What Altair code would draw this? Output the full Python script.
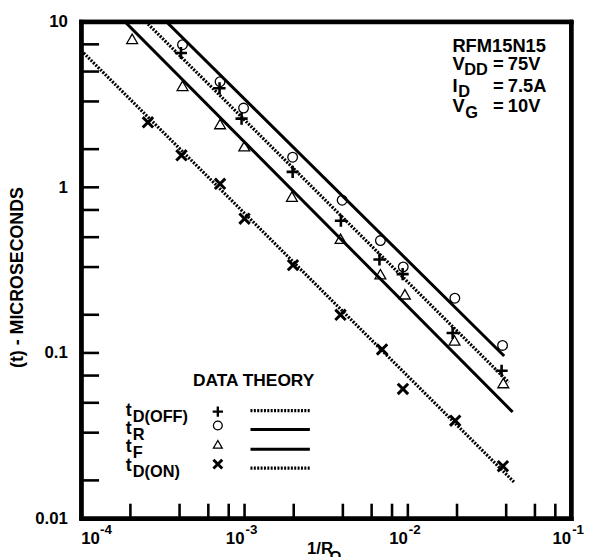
import altair as alt
import pandas as pd

FONT = "Liberation Sans, Arial, sans-serif"

# ---------------- data ----------------
X_DOMAIN = [1e-4, 1e-1]
Y_DOMAIN = [0.01, 10]

# measured points: 1/R_O  vs  switching time (microseconds)
toff_x = [4.08e-4, 7.03e-4, 9.59e-4, 1.97e-3, 3.89e-3, 6.70e-3, 9.29e-3, 1.88e-2, 3.75e-2]
toff_y = [6.47, 3.96, 2.60, 1.24, 0.629, 0.367, 0.299, 0.132, 0.078]
tr_x = [4.17e-4, 7.08e-4, 9.86e-4, 1.97e-3, 3.96e-3, 6.79e-3, 9.37e-3, 1.94e-2, 3.80e-2]
tr_y = [7.26, 4.34, 3.01, 1.52, 0.836, 0.477, 0.331, 0.214, 0.111]
tf_x = [2.05e-4, 4.17e-4, 7.08e-4, 9.96e-4, 1.95e-3, 3.87e-3, 6.79e-3, 9.59e-3, 1.93e-2, 3.84e-2]
tf_y = [7.88, 4.10, 2.41, 1.77, 0.879, 0.489, 0.299, 0.226, 0.119, 0.0658]
ton_x = [2.56e-4, 4.11e-4, 7.08e-4, 1.0e-3, 1.98e-3, 3.87e-3, 6.95e-3, 9.33e-3, 1.95e-2, 3.82e-2]
ton_y = [2.47, 1.56, 1.05, 0.647, 0.339, 0.170, 0.105, 0.0606, 0.039, 0.0207]

# theory lines (end points)
th_off_x = [2.48e-4, 0.0415]
th_off_y = [10, 0.0664]
th_r_x = [3.32e-4, 0.0389]
th_r_y = [10, 0.0959]
th_f_x = [1.85e-4, 0.0438]
th_f_y = [10, 0.0440]
th_on_x = [1.0e-4, 0.0447]
th_on_y = [6.7, 0.0166]

# axis ticks / labels
y_major = [0.01, 0.1, 1, 10]
y_major_labels = ["0.01", "0.1", "1", "10"]
y_minor = [7.3, 5.0, 3.3, 1.7, 1.0, 0.73, 0.5, 0.33, 0.17, 0.1, 0.073, 0.05, 0.033, 0.017]
x_ticks = [2e-4, 4e-4, 6e-4, 8e-4, 1e-3, 2e-3, 4e-3, 6e-3, 8e-3, 1e-2, 2e-2, 4e-2, 6e-2, 8e-2]
x_label_vals = [1e-4, 1e-3, 1e-2, 1e-1]
x_label_exps = ["-4", "-3", "-2", "-1"]

# ---------------- chart ----------------
W, H = 495, 502

label_expr = " : ".join(
    [f"datum.value < {v * 1.01} && datum.value > {v * 0.99} ? '{s}'" for v, s in zip(y_major, y_major_labels)]
) + " : ''"

XS = alt.Scale(type="log", domain=X_DOMAIN)
YS = alt.Scale(type="log", domain=Y_DOMAIN)
XENC = alt.X("x:Q", scale=XS, axis=None)
YENC = alt.Y("y:Q", scale=YS, axis=None)
X2ENC = alt.X2("x2:Q")
Y2ENC = alt.Y2("y2:Q")

FRAME_AX = dict(domain=True, domainColor="black", domainWidth=4, domainCap="square",
                ticks=False, labels=False, grid=False, title=None)

Y_AXIS_LEFT = alt.Axis(
    orient="left", values=y_major, labelExpr=label_expr, ticks=False, grid=False,
    domain=True, domainColor="black", domainWidth=4, domainCap="square",
    labelFont=FONT, labelFontSize=17, labelFontWeight="bold", labelColor="black",
    labelPadding=14,
    title="(t) - MICROSECONDS", titleFont=FONT, titleFontSize=18, titleFontWeight="bold",
    titleColor="black", titleX=-64, titleY=258, titleAngle=270, titleAlign="center",
    titleBaseline="middle",
)

PLUS = "M-1,0L1,0M0,-1L0,1"
XMARK = "M-1,-1L1,1M-1,1L1,-1"
DOT = [2, 1.4]

ONE = pd.DataFrame({"_": [0]})
corner_df = pd.DataFrame({"x": X_DOMAIN, "y": Y_DOMAIN})
layers = []

# frame + y labels drawn by the axes (bottom/left and top/right)
layers.append(alt.Chart(corner_df).mark_point(opacity=0).encode(
    x=alt.X("x:Q", scale=XS, axis=alt.Axis(orient="bottom", **FRAME_AX)),
    y=alt.Y("y:Q", scale=YS, axis=Y_AXIS_LEFT)))
layers.append(alt.Chart(corner_df).mark_point(opacity=0).encode(
    x=alt.X("x:Q", scale=XS, axis=alt.Axis(orient="top", **FRAME_AX)),
    y=alt.Y("y:Q", scale=YS, axis=alt.Axis(orient="right", **FRAME_AX))))

# frame again as rules along the domain edges (through the scales)
frame_df = pd.DataFrame({
    "x": [X_DOMAIN[0], X_DOMAIN[0], X_DOMAIN[0], X_DOMAIN[1]],
    "x2": [X_DOMAIN[1], X_DOMAIN[1], X_DOMAIN[0], X_DOMAIN[1]],
    "y": [Y_DOMAIN[1], Y_DOMAIN[0], Y_DOMAIN[0], Y_DOMAIN[0]],
    "y2": [Y_DOMAIN[1], Y_DOMAIN[0], Y_DOMAIN[1], Y_DOMAIN[1]],
})
layers.append(alt.Chart(frame_df).mark_rule(color="black", strokeWidth=4, strokeCap="square")
              .encode(x=XENC, x2=X2ENC, y=YENC, y2=Y2ENC))

# theory lines
for xs, ys, dash in [(th_off_x, th_off_y, DOT), (th_r_x, th_r_y, None),
                     (th_f_x, th_f_y, None), (th_on_x, th_on_y, DOT)]:
    df = pd.DataFrame({"x": xs, "y": ys})
    kw = dict(color="black", strokeWidth=3.2 if dash else 3, clip=True)
    if dash:
        kw["strokeDash"] = dash
    layers.append(alt.Chart(df).mark_line(**kw).encode(x=XENC, y=YENC))

# data points
pts = [
    (toff_x, toff_y, dict(shape=PLUS, size=150, strokeWidth=2.6)),
    (tr_x, tr_y, dict(shape="circle", size=95, strokeWidth=1.3)),
    (tf_x, tf_y, dict(shape="triangle-up", size=120, strokeWidth=1.3)),
    (ton_x, ton_y, dict(shape=XMARK, size=110, strokeWidth=3)),
]
for xs, ys, kw in pts:
    df = pd.DataFrame({"x": xs, "y": ys})
    layers.append(alt.Chart(df).mark_point(filled=False, color="black", opacity=1, clip=True, **kw)
                  .encode(x=XENC, y=YENC))

# inside ticks
layers.append(alt.Chart(pd.DataFrame({"y": y_minor})).mark_rule(color="black", strokeWidth=2.6)
              .encode(y=YENC, x=alt.value(0), x2=alt.value(18)))
layers.append(alt.Chart(pd.DataFrame({"x": x_ticks})).mark_rule(color="black", strokeWidth=2.6)
              .encode(x=XENC, y=alt.value(H - 15), y2=alt.value(H)))

# x tick labels with superscripts
xl = pd.DataFrame({"x": x_label_vals, "exp": x_label_exps})
base_style = dict(font=FONT, fontWeight="bold", color="black", baseline="alphabetic")
layers.append(alt.Chart(xl).transform_filter("datum.x > 0.0002")
              .mark_text(text="10", align="right", fontSize=17, **base_style)
              .encode(x=XENC, y=alt.value(528)))
layers.append(alt.Chart(xl).transform_filter("datum.x < 0.0002")
              .mark_text(text="10", align="left", fontSize=17, **base_style)
              .encode(x=XENC, y=alt.value(528)))
layers.append(alt.Chart(xl).transform_filter("datum.x > 0.0002")
              .mark_text(align="left", dx=1, fontSize=13.5, **base_style)
              .encode(x=XENC, y=alt.value(518), text="exp:N"))
layers.append(alt.Chart(xl).transform_filter("datum.x < 0.0002")
              .mark_text(align="left", dx=19, fontSize=13.5, **base_style)
              .encode(x=XENC, y=alt.value(518), text="exp:N"))


def txt(s, px, py, size=17, align="left"):
    return alt.Chart(ONE).mark_text(text=s, align=align, baseline="alphabetic", font=FONT,
                                    fontSize=size, fontWeight="bold", color="black"
                                    ).encode(x=alt.value(px), y=alt.value(py))


# x axis title 1/R_O
layers.append(txt("1/R", 228, 538, 17))
layers.append(txt("O", 251, 545, 15))

# top-right annotation
layers += [
    txt("RFM15N15", 375, 31, 18.5),
    txt("V", 375, 49, 18.5), txt("DD", 387, 54, 16.5), txt("=", 416, 49, 18.5), txt("75V", 431, 49, 18.5),
    txt("I", 375, 71, 18.5), txt("D", 381, 76, 16.5), txt("=", 416, 71, 18.5), txt("7.5A", 431, 71, 18.5),
    txt("V", 375, 91, 18.5), txt("G", 388, 97, 16.5), txt("=", 416, 91, 18.5), txt("10V", 431, 91, 18.5),
]

# legend
layers.append(txt("DATA THEORY", 113, 368, 17.5))
legend_rows = [
    ("D(OFF)", PLUS, 110, 2.4, DOT),
    ("R", "circle", 80, 1.3, None),
    ("F", "triangle-up", 80, 1.3, None),
    ("D(ON)", XMARK, 80, 3, DOT),
]
row_t = [398, 417, 435, 454]
row_sym = [394, 408, 427, 447]
row_line = [393, 412, 432, 451]
for i, (sub, shape, size, sw, dash) in enumerate(legend_rows):
    layers.append(txt("t", 45, row_t[i], 18))
    layers.append(txt(sub, 52, row_t[i] + 6, 16.5))
    layers.append(alt.Chart(ONE).mark_point(shape=shape, size=size, strokeWidth=sw, filled=False,
                                            color="black", opacity=1)
                  .encode(x=alt.value(138), y=alt.value(row_sym[i])))
    kw = dict(color="black", strokeWidth=3.2 if dash else 3)
    if dash:
        kw["strokeDash"] = dash
    layers.append(alt.Chart(ONE).mark_rule(**kw)
                  .encode(x=alt.value(171), x2=alt.value(231), y=alt.value(row_line[i])))

chart = alt.layer(*layers).resolve_axis(x="independent", y="independent").properties(
    width=W, height=H,
    autosize=alt.AutoSizeParams(type="none"),
    padding={"left": 74, "top": 11, "right": 16, "bottom": 36},
    background="white",
).configure_view(stroke="black", strokeWidth=4)

chart.save("out.html", embed_options={"renderer": "svg", "actions": False})
